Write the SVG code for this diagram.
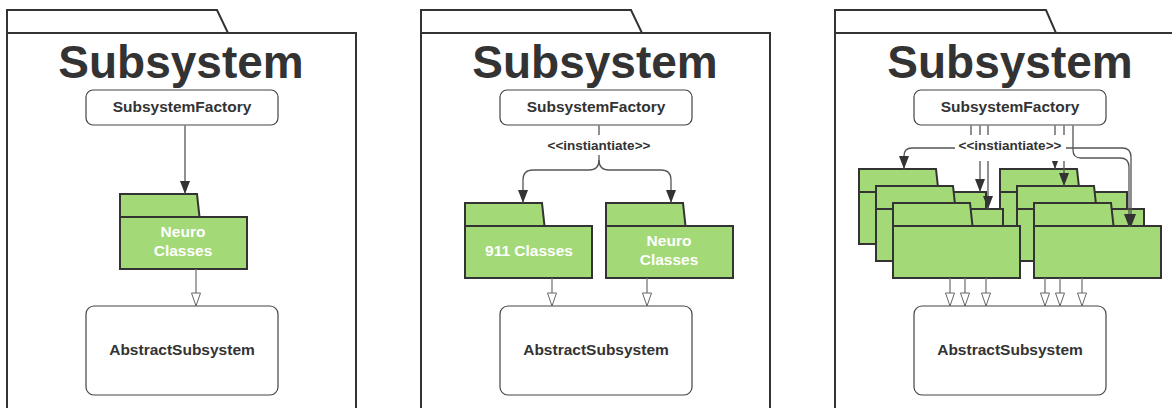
<svg xmlns="http://www.w3.org/2000/svg" xmlns:xlink="http://www.w3.org/1999/xlink" width="1172" height="408" viewBox="0 0 1172 408">
<style>
.frame{fill:#fff;stroke:#333;stroke-width:2}
.title{font-family:"Liberation Sans",Arial,sans-serif;font-weight:bold;font-size:46px;fill:#333;text-anchor:middle}
.box{fill:#fff;stroke:#444;stroke-width:1.2}
.lbl{font-family:"Liberation Sans",Arial,sans-serif;font-weight:bold;font-size:15.5px;fill:#333;text-anchor:middle}
.pk{fill:#a3d977;stroke:#333;stroke-width:2}
.pt{font-family:"Liberation Sans",Arial,sans-serif;font-weight:bold;font-size:15.5px;fill:#fff;text-anchor:middle}
.st{font-family:"Liberation Sans",Arial,sans-serif;font-weight:bold;font-size:13.5px;fill:#333;text-anchor:middle}
.c{fill:none;stroke:#555;stroke-width:1.3}
.ch{fill:none;stroke:#777;stroke-width:1.3}
.mask{fill:#fff}
</style>
<defs>
<marker id="af" viewBox="0 0 10 13" refX="5" refY="13" markerWidth="10" markerHeight="13" markerUnits="userSpaceOnUse" orient="auto-start-reverse">
<path d="M0,0 L10,0 L5,13 z" fill="#333" transform="rotate(-90 5 6.5) translate(-1.5 1.5)"/>
</marker>
<marker id="fa" viewBox="0 0 13 10" refX="13" refY="5" markerWidth="13" markerHeight="10" markerUnits="userSpaceOnUse" orient="auto">
<path d="M0,0 L13,5 L0,10 z" fill="#333"/>
</marker>
<marker id="ha" viewBox="-1 -1 15 12" refX="13" refY="5" markerWidth="15" markerHeight="12" markerUnits="userSpaceOnUse" orient="auto">
<path d="M0,0.5 L13,5 L0,9.5 z" fill="#fff" stroke="#666" stroke-width="1"/>
</marker>
<g id="pkgshape">
<path class="pk" d="M0,0 H77 L79.5,23 H0 z"/>
<rect class="pk" x="0" y="23" width="127" height="52"/>
</g>
</defs>

<!-- Panel 1 -->
<g id="frame1"><path class="frame" d="M7,420 V10 H217 L228,33 H7 M7,33 H356 V420"/><text class="title" x="181" y="78">Subsystem</text></g>
<g id="factory1"><rect class="box" x="86" y="90" width="192" height="35" rx="7"/><text class="lbl" x="182" y="112">SubsystemFactory</text></g>
<g id="neuro1"><use xlink:href="#pkgshape" x="120" y="194"/><text class="pt" x="183" y="237">Neuro</text><text class="pt" x="183" y="256">Classes</text></g>
<g id="abstract1"><rect class="box" x="86" y="306" width="192" height="89" rx="8"/><text class="lbl" x="182" y="355">AbstractSubsystem</text></g>

<!-- Panel 2 -->
<g id="frame2"><path class="frame" d="M421,420 V10 H631 L642,33 H421 M421,33 H770 V420"/><text class="title" x="595" y="78">Subsystem</text></g>
<g id="factory2"><rect class="box" x="500" y="90" width="192" height="35" rx="7"/><text class="lbl" x="596" y="112">SubsystemFactory</text></g>
<g id="pkg911"><use xlink:href="#pkgshape" x="465" y="203"/><text class="pt" x="529" y="256">911 Classes</text></g>
<g id="neuro2"><use xlink:href="#pkgshape" x="606" y="203"/><text class="pt" x="669" y="246">Neuro</text><text class="pt" x="669" y="265">Classes</text></g>
<g id="abstract2"><rect class="box" x="500" y="306" width="192" height="89" rx="8"/><text class="lbl" x="596" y="355">AbstractSubsystem</text></g>

<!-- Panel 3 -->
<g id="frame3"><path class="frame" d="M835,420 V10 H1046 L1056,33 H835 M835,33 H1184 V420"/><text class="title" x="1010" y="78">Subsystem</text></g>
<g id="factory3"><rect class="box" x="914" y="90" width="192" height="35" rx="7"/><text class="lbl" x="1010" y="112">SubsystemFactory</text></g>
<g id="pkgA"><use xlink:href="#pkgshape" x="859" y="169"/></g>
<g id="pkgD"><use xlink:href="#pkgshape" x="1000" y="169"/></g>
<g id="pkgB"><use xlink:href="#pkgshape" x="876" y="186"/></g>
<g id="pkgE"><use xlink:href="#pkgshape" x="1017" y="186"/></g>
<g id="pkgC"><use xlink:href="#pkgshape" x="893" y="203"/></g>
<g id="pkgF"><use xlink:href="#pkgshape" x="1034" y="203"/></g>
<g id="abstract3"><rect class="box" x="914" y="306" width="192" height="89" rx="8"/><text class="lbl" x="1010" y="355">AbstractSubsystem</text></g>

<!-- Connectors -->
<g id="connectors">
<path class="c" d="M185,125.6 V194" marker-end="url(#fa)"/>
<path class="ch" d="M196,269 V306" marker-end="url(#ha)"/>

<path class="c" d="M599,125.6 V160 Q599,170 589,170 H533 Q523,170 523,180 V203" marker-end="url(#fa)"/>
<path class="c" d="M599,160 Q599,170 609,170 H661 Q671,170 671,180 V203" marker-end="url(#fa)"/>
<rect class="mask" x="545" y="135" width="108" height="20"/>
<text class="st" x="599" y="150">&lt;&lt;instiantiate&gt;&gt;</text>
<path class="ch" d="M552,278 V306" marker-end="url(#ha)"/>
<path class="ch" d="M647,278 V306" marker-end="url(#ha)"/>

<path class="c" d="M971,125.6 V148 H912 Q904,148 904,156 V169" marker-end="url(#fa)"/>
<path class="c" d="M980,125.6 V192" marker-end="url(#fa)"/>
<path class="c" d="M988,125.6 V209" marker-end="url(#fa)"/>
<path class="c" d="M1055,125.6 V169" marker-end="url(#fa)"/>
<path class="c" d="M1064,125.6 V186" marker-end="url(#fa)"/>
<path class="c" d="M1073,125.6 V150 Q1073,158 1081,158 H1120 Q1129,158 1129,167 V227" marker-end="url(#fa)"/>
<path class="c" d="M1040,148 H1122 Q1131,148 1131,157 V227" marker-end="url(#fa)"/>
<rect class="mask" x="955" y="135" width="111" height="26"/>
<text class="st" x="1010" y="150">&lt;&lt;instiantiate&gt;&gt;</text>
<path class="ch" d="M950,278 V306" marker-end="url(#ha)"/>
<path class="ch" d="M965,278 V306" marker-end="url(#ha)"/>
<path class="ch" d="M986,278 V306" marker-end="url(#ha)"/>
<path class="ch" d="M1045,278 V306" marker-end="url(#ha)"/>
<path class="ch" d="M1060,278 V306" marker-end="url(#ha)"/>
<path class="ch" d="M1082,278 V306" marker-end="url(#ha)"/>
</g>
</svg>
